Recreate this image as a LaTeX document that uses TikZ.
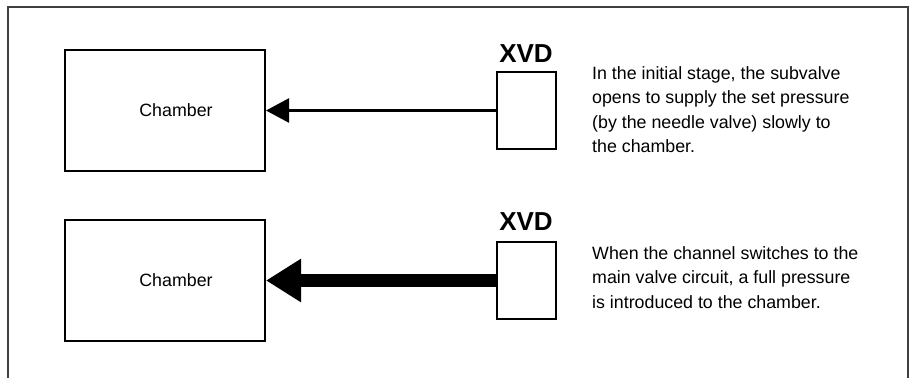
\documentclass[tikz,border=0pt]{standalone}
\usepackage{fontspec}
\setmainfont{Liberation Sans}
\usetikzlibrary{arrows.meta}
\begin{document}
\begin{tikzpicture}[x=1pt,y=-1pt,
  chamberbox/.style={draw=black,line width=2pt,minimum width=200pt,minimum height=121pt,inner sep=0pt},
  chamberlabel/.style={font=\fontsize{17.8}{20}\selectfont,inner sep=0pt},
  valvebox/.style={draw=black,line width=2pt,minimum width=59pt,minimum height=77pt,inner sep=0pt},
  valvelabel/.style={font=\fontsize{26}{30}\selectfont\bfseries,inner sep=0pt,anchor=base},
  desc/.style={font=\fontsize{17.8}{24.5}\selectfont,align=left,inner sep=0pt,anchor=base west},
  frameline/.style={draw=black!75,line width=1.3pt},
  thinflow/.style={line width=2.5pt,-{Triangle[length=23pt,width=24pt]}},
  thickflow/.style={line width=12.5pt,-{Triangle[length=35pt,width=41pt]}}
]
\useasboundingbox (0,0) rectangle (914,378);
\draw[frameline] (8,378) -- (8,7) -- (908,7) -- (908,378);

\node[chamberbox] (ch1) at (165,110.5) {};
\node[chamberbox] (ch2) at (165,280.5) {};
\node[chamberlabel] (c1) at (176,110.5) {Chamber};
\node[chamberlabel] (c2) at (176,280.5) {Chamber};

\node[valvebox] (v1) at (526.5,110.5) {};
\node[valvebox] (v2) at (526.5,280.5) {};

\node[valvelabel] (l1) at (526,62) {XVD};
\node[valvelabel] (l2) at (526,230) {XVD};

\draw[thinflow] (v1.west) -- (ch1.east);
\draw[thickflow] (v2.west) -- (ch2.east);

\node[desc] (t1) at (592,152.5) {In the initial stage, the subvalve\\opens to supply the set pressure\\(by the needle valve) slowly to\\the chamber.};
\node[desc] (t2) at (592,308) {When the channel switches to the\\main valve circuit, a full pressure\\is introduced to the chamber.};
\end{tikzpicture}
\end{document}
